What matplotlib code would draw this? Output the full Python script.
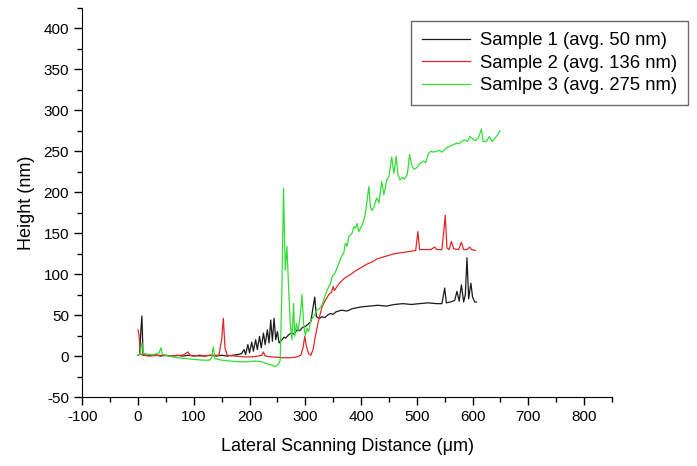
import matplotlib
matplotlib.use("Agg")
import matplotlib.pyplot as plt
from matplotlib.ticker import MultipleLocator

plt.rcParams['font.family'] = ['Liberation Sans', 'DejaVu Sans']
plt.rcParams['axes.unicode_minus'] = False

# Sample 1 (black)
x1 = [0, 3, 5, 7, 9, 12, 20, 30, 40, 50, 60, 70, 80, 90, 100, 110, 120, 130, 140, 150,
      160, 170, 180, 186, 190, 193, 197, 200, 204, 207, 211, 214, 218, 221, 225, 228, 232,
      235, 238, 241, 244, 247, 250, 253, 258, 262, 265, 270, 275, 280, 285, 290, 295, 300,
      305, 310, 314, 317, 320, 325, 330, 335, 340, 345, 350, 355, 365, 375, 385, 400, 415,
      430, 445, 460, 475, 490, 505, 520, 535, 545, 550, 553, 560, 568, 572, 576, 580, 584,
      587, 590, 593, 597, 600, 604, 607]
y1 = [1, 2, 30, 49, 3, 1, 1, 2, 0, 1, 0, 1, 0, 1, 0, 1, 0, 1, 0, 1,
      0, 1, 2, 3, 8, 2, 14, 4, 17, 6, 20, 8, 24, 10, 28, 14, 32,
      16, 44, 18, 46, 20, 30, 16, 20, 23, 22, 26, 28, 27, 32, 31, 35, 36,
      39, 42, 60, 72, 48, 46, 48, 47, 50, 52, 51, 54, 56, 55, 58, 60, 61,
      62, 61, 63, 64, 63, 64, 65, 64, 64, 83, 65, 66, 68, 79, 67, 87, 66,
      75, 120, 70, 89, 72, 66, 66]

# Sample 2 (red)
x2 = [0, 2, 4, 8, 20, 40, 60, 80, 90, 93, 110, 130, 145, 150, 153, 156, 160, 175, 190,
      205, 215, 222, 225, 228, 240, 260, 275, 285, 292, 296, 299, 302, 306, 310, 314, 318,
      324, 330, 336, 342, 347, 350, 352, 360, 370, 380, 390, 400, 410, 420, 430, 440, 450,
      460, 470, 480, 490, 498, 502, 505, 515, 525, 532, 536, 545, 548, 551, 554, 558, 562,
      566, 575, 580, 584, 590, 595, 598, 605]
y2 = [32, 25, 3, 1, 0, 1, 0, 1, 5, 1, 0, 1, 1, 20, 46, 10, 1, 0, -1,
      -1, 0, 1, 5, 0, -1, -2, -2, -1, 1, 10, 24, 12, 3, 1, 8, 24,
      44, 60, 68, 75, 78, 85, 80, 88, 95, 99, 104, 108, 112, 115, 119, 121, 123,
      125, 126, 127, 128, 129, 152, 130, 130, 130, 133, 130, 130, 150, 172, 132, 130, 140,
      131, 130, 139, 130, 130, 133, 130, 129]

# Sample 3 (green)
x3 = [0, 4, 7, 10, 20, 30, 38, 41, 44, 55, 70, 85, 100, 115, 128, 132, 135, 138, 150,
      165, 180, 195, 210, 222, 234, 240, 246, 252, 255, 258, 261, 264, 267, 270, 273, 276,
      279, 281, 284, 287, 291, 294, 297, 300, 303, 306, 310, 315, 321, 325, 330, 336, 342,
      345, 348, 354, 357, 360, 366, 369, 372, 375, 378, 381, 384, 387, 390, 393, 396, 402,
      405, 408, 414, 417, 420, 423, 428, 432, 437, 441, 446, 450, 455, 459, 463, 466, 470,
      474, 478, 483, 487, 491, 495, 500, 505, 512, 516, 520, 525, 530, 535, 541, 545, 550,
      555, 559, 565, 572, 576, 580, 586, 591, 595, 600, 605, 610, 616, 619, 625, 630, 635,
      640, 645, 649]
y3 = [1, 3, 16, 3, 2, 2, 4, 10, 2, 0, -2, -3, -4, -5, -5, -2, 11, -3, -5,
      -6, -7, -7, -6, -7, -10, -11, -13, -10, -5, 80, 205, 105, 134, 85, 40, 20,
      64, 24, 40, 30, 50, 75, 40, 25, 34, 30, 44, 48, 56, 58, 62, 75, 85,
      88, 97, 102, 108, 113, 123, 126, 138, 134, 146, 148, 150, 158, 156, 162, 152, 160,
      166, 175, 207, 181, 178, 182, 193, 187, 213, 197, 215, 219, 243, 223, 244, 222, 215,
      218, 216, 222, 246, 233, 228, 230, 235, 238, 236, 246, 250, 249, 250, 251, 249, 252,
      255, 256, 258, 260, 259, 262, 264, 262, 268, 265, 263, 266, 277, 262, 262, 268, 262,
      266, 270, 275]

labels = ['Sample 1 (avg. 50 nm)', 'Sample 2 (avg. 136 nm)', 'Samlpe 3 (avg. 275 nm)']

fig = plt.figure(figsize=(6.97, 4.66), dpi=100)
ax = fig.add_axes([0.118, 0.148, 0.76, 0.835])

ax.plot(x1, y1, color='#1a1a1a', lw=0.9, label=labels[0])
ax.plot(x2, y2, color='#e32626', lw=0.9, label=labels[1])
ax.plot(x3, y3, color='#33dd33', lw=0.9, label=labels[2])

ax.set_xlim(-100, 850)
ax.set_ylim(-50, 425)
ax.xaxis.set_major_locator(MultipleLocator(100))
ax.xaxis.set_minor_locator(MultipleLocator(50))
ax.yaxis.set_major_locator(MultipleLocator(50))
ax.yaxis.set_minor_locator(MultipleLocator(25))
ax.tick_params(which='major', direction='out', length=6, width=1, labelsize=11)
ax.tick_params(which='minor', direction='out', length=3.5, width=1)
ax.spines['top'].set_visible(False)
ax.spines['right'].set_visible(False)

ax.set_xlabel('Lateral Scanning Distance (μm)', fontsize=13, labelpad=10)
ax.set_ylabel('Height (nm)', fontsize=13, labelpad=6)

leg = fig.legend(loc='upper right', bbox_to_anchor=(1.0, 0.975),
                 bbox_transform=fig.transFigure, fontsize=13.3, frameon=True,
                 fancybox=False, handlelength=2.6, handletextpad=0.5,
                 labelspacing=0.3, borderpad=0.6)
leg.get_frame().set_edgecolor('#444444')
leg.get_frame().set_linewidth(1.0)

fig.savefig('out.png', dpi=100)
